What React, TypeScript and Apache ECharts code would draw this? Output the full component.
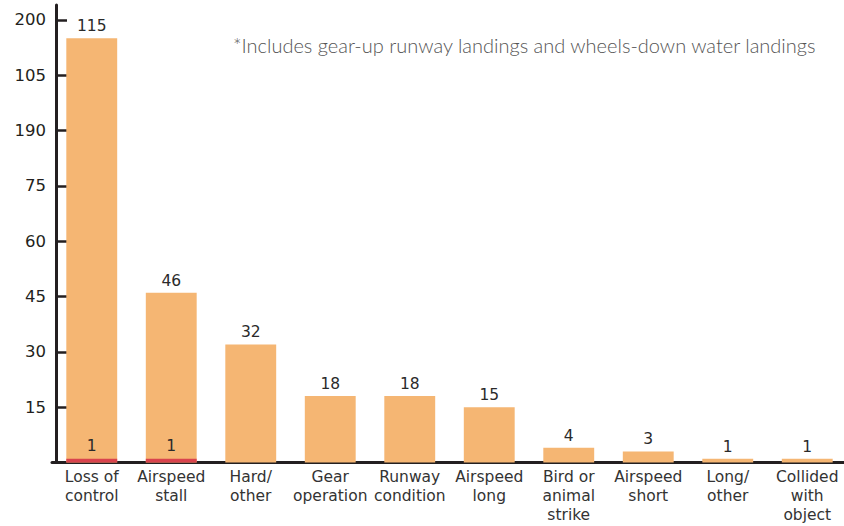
import React, { useEffect, useRef } from "react";
import * as echarts from "echarts";

const categories = [
  "Loss of\ncontrol",
  "Airspeed\nstall",
  "Hard/\nother",
  "Gear\noperation",
  "Runway\ncondition",
  "Airspeed\nlong",
  "Bird or\nanimal\nstrike",
  "Airspeed\nshort",
  "Long/\nother",
  "Collided\nwith\nobject",
];
const totals = [115, 46, 32, 18, 18, 15, 4, 3, 1, 1];
const fatal = [1, 1, null, null, null, null, null, null, null, null];
const tickValues = [15, 30, 45, 60, 75, 90, 105, 120];
const tickLabels = ["15", "30", "45", "60", "75", "190", "105", "200"];
const note = "*Includes gear-up runway landings and wheels-down water landings";

const NUM_FONT = "'DejaVu Sans', 'Open Sans', sans-serif";
const CAT_FONT = "'DejaVu Sans', Lato, sans-serif";

export default function App() {
  const ref = useRef<HTMLDivElement>(null);
  useEffect(() => {
    if (!ref.current) return;
    const chart = echarts.init(ref.current, null, { renderer: "svg" });
    const valueLabel = {
      show: true,
      position: "top",
      color: "#2a2a2a",
      fontSize: 15.5,
      fontWeight: 500,
      fontFamily: NUM_FONT,
    };
    chart.setOption({
      animation: false,
      textStyle: { fontFamily: CAT_FONT },
      grid: {
        left: 52,
        right: -3,
        top: 5,
        bottom: 63.5,
        containLabel: false,
        outerBoundsMode: "none",
      },
      graphic: [
        {
          type: "text",
          left: 233,
          top: 35,
          style: {
            text: note,
            fontFamily: "Lato, sans-serif",
            fontSize: 20,
            fontWeight: 300,
            fill: "#555555",
          },
        },
      ],
      xAxis: {
        type: "category",
        data: categories,
        axisLine: { lineStyle: { color: "#231f20", width: 3 } },
        axisTick: { show: false },
        axisLabel: {
          color: "#333333",
          fontSize: 15.5,
          lineHeight: 19,
          margin: 5,
          interval: 0,
          fontFamily: CAT_FONT,
        },
      },
      yAxis: {
        type: "value",
        min: 0,
        max: 124,
        interval: 15,
        offset: -4,
        splitLine: { show: false },
        axisLine: { show: true, lineStyle: { color: "#231f20", width: 3 } },
        axisTick: {
          show: true,
          inside: true,
          length: 11,
          lineStyle: { color: "#231f20", width: 2.5 },
          customValues: tickValues,
        },
        axisLabel: {
          color: "#231f20",
          fontSize: 16.5,
          fontWeight: 500,
          margin: 10,
          fontFamily: NUM_FONT,
          customValues: tickValues,
          formatter: (v: number) => {
            const i = tickValues.indexOf(v);
            return i >= 0 ? tickLabels[i] : "";
          },
        },
      },
      series: [
        {
          type: "bar",
          data: totals,
          barWidth: "64%",
          itemStyle: { color: "#f5b673" },
          label: { ...valueLabel, distance: 4 },
        },
        {
          type: "bar",
          data: fatal,
          barWidth: "64%",
          barGap: "-100%",
          itemStyle: { color: "#d9434d" },
          label: { ...valueLabel, distance: 5 },
        },
      ],
    });
    return () => chart.dispose();
  }, []);
  return (
    <div
      ref={ref}
      style={{ position: "absolute", left: 0, top: 0, width: 844, height: 526 }}
    />
  );
}
